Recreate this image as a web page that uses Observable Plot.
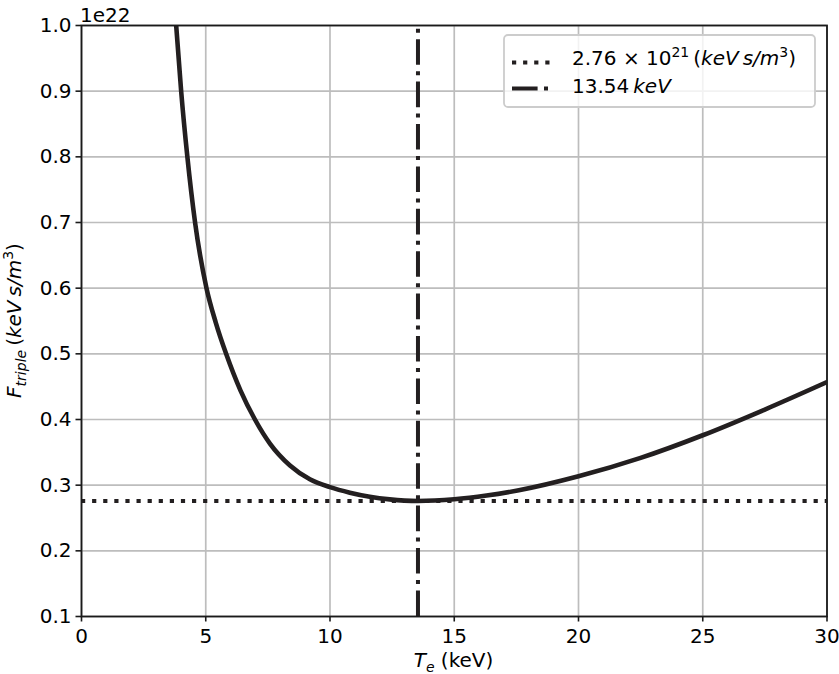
<!DOCTYPE html>
<html>
<head>
<meta charset="utf-8">
<script src="https://cdn.jsdelivr.net/npm/d3@7"></script>
<script src="https://cdn.jsdelivr.net/npm/@observablehq/plot@0.6"></script>
<style>
  body { margin: 0; background: #fff; }
  #chart svg { display: block; }
</style>
</head>
<body>
<div id="chart"></div>
<script>
// Electron temperature T_e (keV)
const temperature = [3.81, 4.01, 4.26, 4.57, 5.03, 5.4, 5.82, 6.4, 6.98, 7.59, 8.39, 9.19, 10.0, 10.8, 11.6, 12.4, 13.54, 15.0, 16.3, 17.6, 20.0, 22.5, 25.0, 27.5, 30.0];
// F_triple in units of 1e22 keV s / m^3
const fTriple = [1.0, 0.9, 0.8, 0.7, 0.6, 0.548, 0.5, 0.444, 0.4, 0.363, 0.330, 0.309, 0.297, 0.2886, 0.2824, 0.2784, 0.276, 0.2786, 0.2842, 0.2922, 0.3135, 0.3415, 0.376, 0.4152, 0.457];
const minValue = 0.276;   // 2.76e21
const minTemp = 13.54;
const xTicks = [0, 5, 10, 15, 20, 25, 30];
const yTicks = [0.1, 0.2, 0.3, 0.4, 0.5, 0.6, 0.7, 0.8, 0.9, 1.0];
const offsetText = "1e22";

const data = temperature.map((t, i) => ({t, f: fTriple[i]}));

const FS = 20;
const ink = "#231f20";

const plot = Plot.plot({
  width: 839,
  height: 674,
  marginLeft: 81,
  marginRight: 12.5,
  marginTop: 25,
  marginBottom: 58,
  style: {fontFamily: "DejaVu Sans", fontSize: FS + "px", color: "#000", background: "#fff", overflow: "visible"},
  x: {domain: [0, 30]},
  y: {domain: [0.1, 1.0]},
  marks: [
    Plot.gridX(xTicks, {stroke: "#bdbdbd", strokeOpacity: 1, strokeWidth: 1.7}),
    Plot.gridY(yTicks, {stroke: "#bdbdbd", strokeOpacity: 1, strokeWidth: 1.7}),
    Plot.line(data, {x: "t", y: "f", stroke: ink, strokeWidth: 4.6, curve: "monotone-x", clip: true}),
    Plot.ruleY([minValue], {stroke: ink, strokeWidth: 4, strokeDasharray: "4.2,6.9"}),
    Plot.ruleX([minTemp], {y1: 0.1, y2: 1.0, stroke: ink, strokeWidth: 4, strokeDasharray: "25.6,6.4,4,6.4"}),
    Plot.frame({stroke: "#1a1a1a", strokeWidth: 1.8}),
    Plot.axisX(xTicks, {tickSize: 5.5, tickPadding: 6.5, label: null, tickFormat: d => String(d), stroke: "#1a1a1a", strokeWidth: 1.6}),
    Plot.axisY(yTicks, {tickSize: 5.5, tickPadding: 4.5, label: null, tickFormat: d3.format(".1f"), stroke: "#1a1a1a", strokeWidth: 1.6})
  ]
});

document.getElementById("chart").appendChild(plot);
const svg = d3.select(plot);

// rich text helper: segments {t, it, sup, sub}
function rich(sel, segs) {
  let cur = 0;
  for (const s of segs) {
    const shift = s.sup ? -8.3 : s.sub ? 4.7 : 0;
    const ts = sel.append("tspan").text(s.t).attr("dy", shift - cur);
    cur = shift;
    if (s.it) ts.attr("font-style", "italic");
    if (s.sup || s.sub) ts.attr("font-size", 14);
  }
  return sel;
}

const overlay = svg.append("g").attr("font-family", "DejaVu Sans").attr("font-size", FS).attr("fill", "#000").attr("text-anchor", "start");

// offset text
overlay.append("text").attr("x", 80).attr("y", 22).attr("text-anchor", "start").text(offsetText);

// x label
rich(overlay.append("text").attr("x", 453.5).attr("y", 667).attr("text-anchor", "middle"), [
  {t: "T", it: true}, {t: "e", it: true, sub: true}, {t: " (keV)"}
]);

// y label
rich(overlay.append("text").attr("transform", "translate(21,320.5) rotate(-90)").attr("text-anchor", "middle"), [
  {t: "F", it: true}, {t: "triple", it: true, sub: true}, {t: "\u2009("}, {t: "keV\u2009s/m", it: true}, {t: "3", sup: true}, {t: ")"}
]);

// legend
const lg = overlay.append("g");
lg.append("rect").attr("x", 504).attr("y", 35).attr("width", 311).attr("height", 72).attr("rx", 4)
  .attr("fill", "#fff").attr("fill-opacity", 0.8).attr("stroke", "#cccccc").attr("stroke-width", 1.8);
lg.append("line").attr("x1", 512).attr("x2", 552).attr("y1", 62.5).attr("y2", 62.5)
  .attr("stroke", ink).attr("stroke-width", 4).attr("stroke-dasharray", "4.2,6.9");
lg.append("line").attr("x1", 512).attr("x2", 552).attr("y1", 88.5).attr("y2", 88.5)
  .attr("stroke", ink).attr("stroke-width", 4).attr("stroke-dasharray", "25.6,6.4,4,6.4");
rich(lg.append("text").attr("x", 572).attr("y", 65).attr("text-anchor", "start"), [
  {t: "2.76 \u00d7 10"}, {t: "21", sup: true}, {t: "\u2009("}, {t: "keV\u2009s/m", it: true}, {t: "3", sup: true}, {t: ")"}
]);
rich(lg.append("text").attr("x", 572).attr("y", 93.3).attr("text-anchor", "start"), [
  {t: "13.54\u2009"}, {t: "keV", it: true}
]);
</script>
</body>
</html>
